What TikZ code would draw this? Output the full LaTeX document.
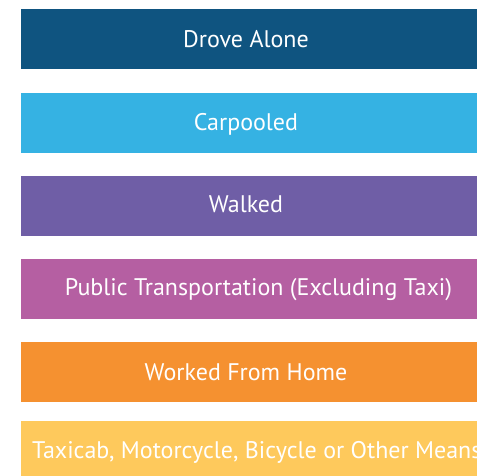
\documentclass[tikz,border=0pt]{standalone}
\usepackage{fontspec}
\setmainfont{PT Sans}
\definecolor{cDrove}{HTML}{0F5480}
\definecolor{cCar}{HTML}{35B2E3}
\definecolor{cWalk}{HTML}{6F5EA6}
\definecolor{cPub}{HTML}{B55FA2}
\definecolor{cHome}{HTML}{F59130}
\definecolor{cTaxi}{HTML}{FEC95C}
\begin{document}
\begin{tikzpicture}[x=1pt,y=1pt,
  lbl/.style={text=white,font=\fontsize{24}{28}\selectfont,inner sep=0pt,anchor=base}]
\useasboundingbox (0,0) rectangle (477,476);
\clip (0,0) rectangle (477,476);
\fill[cDrove] (20.5,476-9) rectangle (490,476-69);
\fill[cCar] (21,476-93) rectangle (490,476-153);
\fill[cWalk] (21,476-176) rectangle (490,476-236);
\fill[cPub] (21,476-259) rectangle (490,476-319);
\fill[cHome] (21,476-342) rectangle (490,476-402);
\fill[cTaxi] (21,476-421) rectangle (490,-5);
\node[lbl] (t1) at (246,476-48) {Drove Alone};
\node[lbl] (t2) at (246,476-131) {Carpooled};
\node[lbl] (t3) at (246,476-213) {Walked};
\node[lbl] (t4) at (258.5,476-296) {Public Transportation (Excluding Taxi)};
\node[lbl] (t5) at (246,476-381) {Worked From Home};
\node[lbl,anchor=base west] (t6) at (32,476-459) {Taxicab, Motorcycle, Bicycle or Other Means};
\end{tikzpicture}
\end{document}
